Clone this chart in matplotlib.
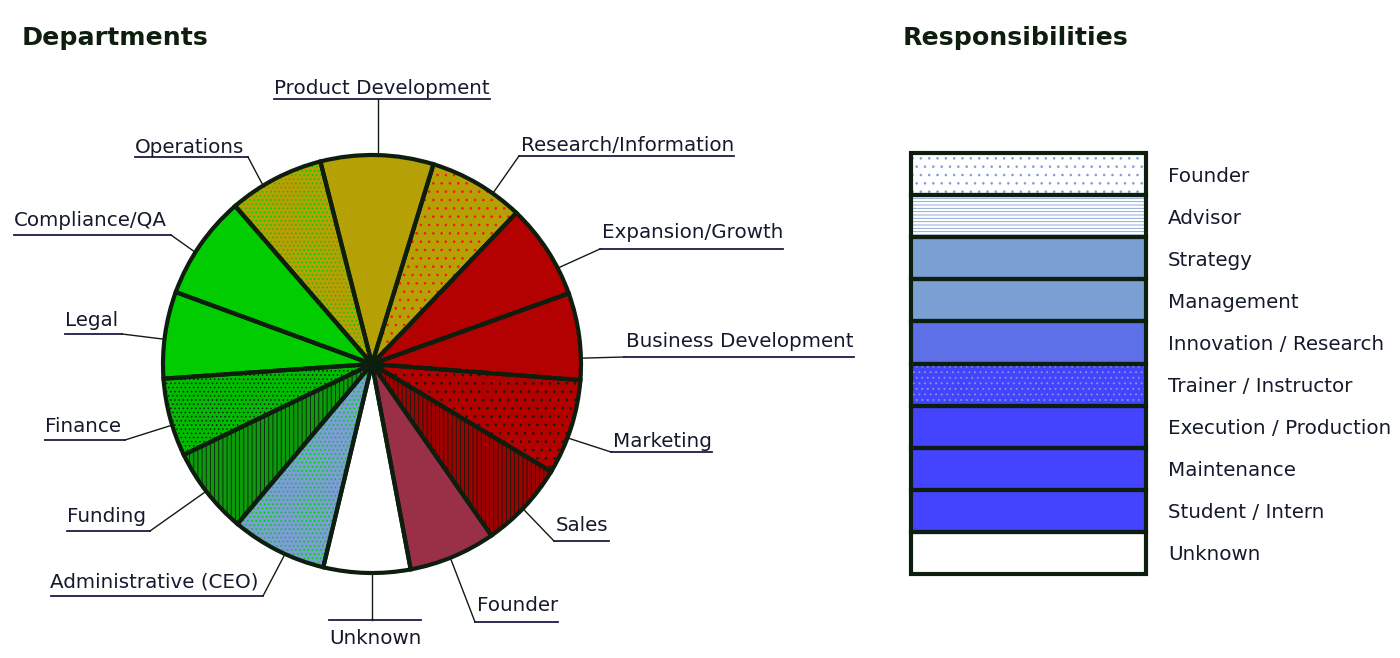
import matplotlib.pyplot as plt
import matplotlib.patches as mpatches
import numpy as np

# data
departments = ['Product Development', 'Research/Information', 'Expansion/Growth',
               'Business Development', 'Marketing', 'Sales', 'Founder', 'Unknown',
               'Administrative (CEO)', 'Funding', 'Finance', 'Legal',
               'Compliance/QA', 'Operations']
dept_counts = [13, 11, 11, 10, 11, 10, 10, 10, 11, 10, 9, 10, 12, 11]

roles = ['Founder', 'Advisor', 'Strategy', 'Management', 'Innovation / Research',
         'Trainer / Instructor', 'Execution / Production', 'Maintenance',
         'Student / Intern', 'Unknown']

# styles
OLIVE = '#b5a005'
RED = '#b30000'
GREEN = '#00cc00'
LBLUE = '#7a9fd3'
BLUE = '#4444ff'
EDGE = '#0e1e0e'
INK = '#141a2c'

dept_face = [OLIVE, OLIVE, RED, RED, RED, '#a00000', '#9a3048', 'white',
             LBLUE, '#0a9a0a', '#00bb00', GREEN, GREEN, OLIVE]
dept_hatch = [None, ('..', '#ff1010'), None, None, ('..', EDGE), ('||||', EDGE),
              None, None, ('....', GREEN), ('||||', EDGE), ('....', EDGE),
              None, None, ('....', GREEN)]

role_face = ['white', 'white', LBLUE, LBLUE, '#5e70e8', BLUE, BLUE, BLUE, BLUE, 'white']
role_hatch = [('..', LBLUE), ('-----', LBLUE), None, None, None, ('...', LBLUE),
              None, None, None, None]

# label layout in pixels: text x, text baseline y, underline y, alignment, leader angle on the rim
label_layout = {
    'Product Development': (382, 94, 99, 'center', 88.3),
    'Research/Information': (521, 151, 156, 'left', 54.7),
    'Expansion/Growth': (602, 238, 249, 'left', 27.3),
    'Business Development': (626, 347, 357, 'left', 1.6),
    'Marketing': (613, 447, 452, 'left', -20.7),
    'Sales': (556, 531, 541, 'left', -43.8),
    'Founder': (477, 611, 622, 'left', -68),
    'Unknown': (375, 644, 620, 'center', -90),
    'Administrative (CEO)': (259, 588, 596, 'right', 245.4),
    'Funding': (146, 522, 531, 'right', 217.5),
    'Finance': (121, 432, 440, 'right', 197),
    'Legal': (118, 326, 334, 'right', 173.2),
    'Compliance/QA': (167, 226, 235, 'right', 147.7),
    'Operations': (244, 153, 157, 'right', 121.4),
}

plt.rcParams['font.family'] = 'DejaVu Sans'
plt.rcParams['hatch.linewidth'] = 0.6

W, H = 1400, 658
fig = plt.figure(figsize=(14, 6.58), dpi=100)
ax = fig.add_axes([0, 0, 1, 1])

cx, cy, R = 372, H - 364, 209
start = 104.3
faces, _ = ax.pie(dept_counts, colors=dept_face, startangle=start, counterclock=False,
                  center=(cx, cy), radius=R, wedgeprops=dict(linewidth=0))
for w, h in zip(faces, dept_hatch):
    if h:
        ax.add_patch(mpatches.Wedge(w.center, w.r, w.theta1, w.theta2, facecolor='none',
                                    edgecolor=h[1], hatch=h[0], linewidth=0, zorder=2))
ax.pie(dept_counts, colors=['none'] * len(dept_counts), startangle=start,
       counterclock=False, center=(cx, cy), radius=R,
       wedgeprops=dict(linewidth=3, edgecolor=EDGE, zorder=3))
ax.set_xlim(0, W)
ax.set_ylim(0, H)
ax.set_aspect('equal')
ax.axis('off')

ax.text(22, H - 45, 'Departments', fontsize=18.2, fontweight='bold', color=EDGE, va='baseline')
ax.text(903, H - 45, 'Responsibilities', fontsize=18.2, fontweight='bold', color=EDGE, va='baseline')

fig.canvas.draw()
rend = fig.canvas.get_renderer()
inv = ax.transData.inverted()
for name in departments:
    tx, by, uy, ha, ang = label_layout[name]
    uy = H - uy
    a = np.deg2rad(ang)
    px, py = cx + R * np.cos(a), cy + R * np.sin(a)
    t = ax.text(tx, H - by, name, ha=ha, va='baseline', fontsize=14.3, color=INK)
    bb = t.get_window_extent(rend).transformed(inv)
    if ha == 'left':
        end = bb.x0 - 2
        ax.plot([bb.x1, end], [uy, uy], color='#1c1c48', lw=1.3)
        ax.plot([px, end], [py, uy], color=EDGE, lw=1.0)
    elif ha == 'right':
        end = bb.x1 + 4
        ax.plot([bb.x0, end], [uy, uy], color='#1c1c48', lw=1.3)
        ax.plot([px, end], [py, uy], color=EDGE, lw=1.0)
    else:
        ax.plot([bb.x0, bb.x1], [uy, uy], color='#1c1c48', lw=1.3)
        ax.plot([px, px], [py, uy], color=EDGE, lw=1.0)

# responsibilities key
ax2 = fig.add_axes([911 / W, (H - 574) / H, 235 / W, 421 / H])
yy = np.arange(len(roles))
ax2.barh(yy, 1, height=1, color=role_face, linewidth=0)
for i, h in enumerate(role_hatch):
    if h:
        ax2.barh(i, 1, height=1, color='none', edgecolor=h[1], hatch=h[0], linewidth=0)
ax2.barh(yy, 1, height=1, color='none', edgecolor=EDGE, linewidth=3, clip_on=False)
ax2.set_xlim(0, 1)
ax2.set_ylim(len(roles) - 0.5, -0.5)
ax2.set_xticks([])
ax2.set_yticks(yy, roles)
ax2.yaxis.tick_right()
ax2.tick_params(length=0, pad=16, labelsize=14.3, labelcolor=INK)
for s in ax2.spines.values():
    s.set_visible(False)

fig.savefig('out.png', dpi=100)
